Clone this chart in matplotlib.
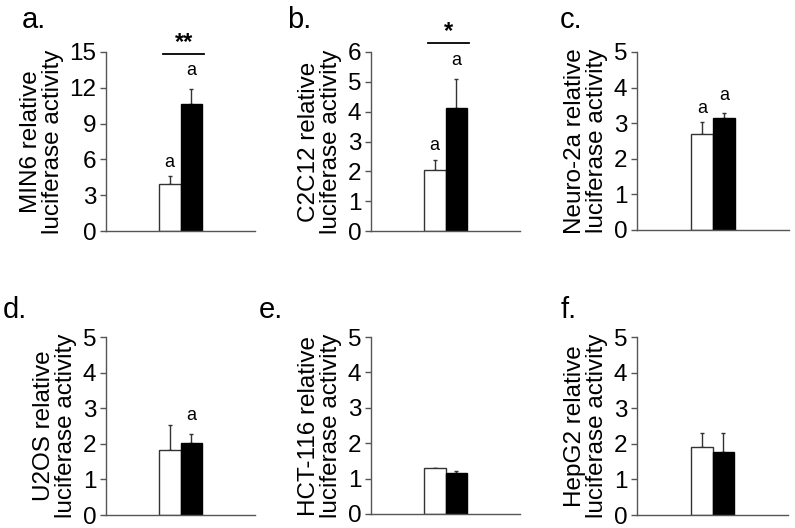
import matplotlib
matplotlib.use("Agg")
import matplotlib.pyplot as plt

plt.rcParams['font.family'] = ['Liberation Sans', 'DejaVu Sans']

# ---- data ----
panel_letters = ["a.", "b.", "c.", "d.", "e.", "f."]
cell_lines = ["MIN6", "C2C12", "Neuro-2a", "U2OS", "HCT-116", "HepG2"]
white_vals = [3.95, 2.06, 2.70, 1.82, 1.29, 1.92]
white_errs = [0.63, 0.33, 0.33, 0.70, 0.02, 0.39]
black_vals = [10.68, 4.11, 3.15, 2.01, 1.17, 1.78]
black_errs = [1.25, 1.00, 0.13, 0.26, 0.04, 0.53]
white_marks = ["a", "a", "a", "", "", ""]
black_marks = ["a", "a", "a", "a", "", ""]
sig_labels = ["**", "*", "", "", "", ""]
sig_heights = [14.85, 6.3, None, None, None, None]
y_max = [15, 6, 5, 5, 5, 5]
y_ticks = [[0, 3, 6, 9, 12, 15], [0, 1, 2, 3, 4, 5, 6],
           [0, 1, 2, 3, 4, 5], [0, 1, 2, 3, 4, 5],
           [0, 1, 2, 3, 4, 5], [0, 1, 2, 3, 4, 5]]

W, H = 795, 528
fig = plt.figure(figsize=(W / 100, H / 100), dpi=100)

# axes rectangles in pixels: left, top, right, bottom
rects = [(106, 52, 255, 231), (371, 52, 520, 231), (637, 52, 789, 230),
         (106, 337, 255, 515), (371, 337, 520, 514), (637, 337, 788, 515)]
label_pos = [(22, 20), (287, 20), (560, 20), (3, 310), (259, 310), (561, 310)]

axis_col = "#555555"
for i in range(6):
    l, t, r, b = rects[i]
    ax = fig.add_axes([l / W, 1 - b / H, (r - l) / W, (b - t) / H])
    ax.bar([0], [white_vals[i]], width=1.0, color="white", edgecolor="#333333",
           linewidth=1.0, zorder=2)
    ax.bar([1], [black_vals[i]], width=1.0, color="black", edgecolor="black",
           linewidth=1.0, zorder=2)
    ax.errorbar([0, 1], [white_vals[i], black_vals[i]],
                yerr=[[0, 0], [white_errs[i], black_errs[i]]],
                fmt="none", ecolor="#333333", elinewidth=1.0, capsize=1.5,
                capthick=1.0, zorder=1)
    ax.set_xlim(-2.95, 3.95)
    ax.set_ylim(0, y_max[i])
    ax.set_yticks(y_ticks[i])
    ax.set_yticklabels([str(v) for v in y_ticks[i]], fontsize=17.5)
    ax.set_xticks([])
    for s in ["top", "right"]:
        ax.spines[s].set_visible(False)
    for s in ["left", "bottom"]:
        ax.spines[s].set_color(axis_col)
        ax.spines[s].set_linewidth(1.0)
    ax.tick_params(axis="y", direction="out", length=4, width=1.0,
                   color=axis_col, pad=3)
    ax.set_ylabel(f"{cell_lines[i]} relative\nluciferase activity",
                  fontsize=17.5, linespacing=0.98, labelpad=4)
    # letters above bars
    if white_marks[i]:
        ax.annotate(white_marks[i], (0, white_vals[i] + white_errs[i]),
                    xytext=(0, 4), textcoords="offset points",
                    ha="center", va="bottom", fontsize=13)
    if black_marks[i]:
        ax.annotate(black_marks[i], (1, black_vals[i] + black_errs[i]),
                    xytext=(0, 7), textcoords="offset points",
                    ha="center", va="bottom", fontsize=13)
    if sig_labels[i]:
        y = sig_heights[i]
        ax.plot([-0.3, 1.6], [y, y], color="black", linewidth=1.3,
                clip_on=False)
        ax.text(0.65, y, sig_labels[i], ha="center", va="bottom",
                fontsize=17, fontweight="bold")
    fig.text(label_pos[i][0] / W, 1 - label_pos[i][1] / H, panel_letters[i],
             fontsize=21, ha="left", va="center")

fig.savefig("out.png", dpi=100)
